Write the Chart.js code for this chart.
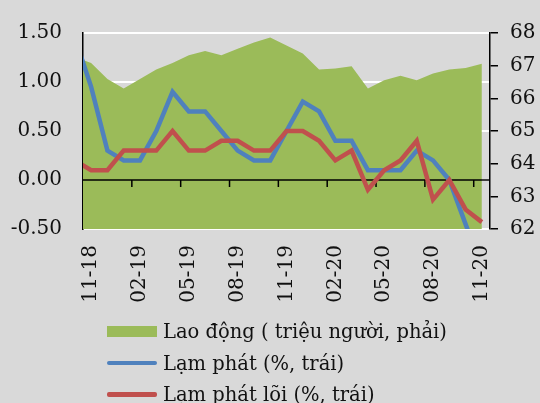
<!DOCTYPE html>
<html>
<head>
<meta charset="utf-8">
<script src="https://cdn.jsdelivr.net/npm/chart.js@4/dist/chart.umd.min.js"></script>
<style>
html,body{margin:0;padding:0;background:#d9d9d9;}
#wrap{position:relative;width:540px;height:403px;overflow:hidden;background:#d9d9d9;}
#c{position:absolute;left:0;top:0;}
#legend{position:absolute;left:107px;top:315.75px;font-family:'DejaVu Serif';font-size:19.5px;color:#111;}
.row{display:flex;align-items:center;height:31.5px;white-space:nowrap;}
.sw{width:50px;margin-right:6px;flex:none;}
</style>
</head>
<body>
<div id="wrap">
<canvas id="c" width="540" height="403"></canvas>
<div id="legend"></div>
</div>
<script>
// Months (first one, 10-18, lies just left of the plot and is clipped)
const months = ['10-18','11-18','12-18','01-19','02-19','03-19','04-19','05-19','06-19','07-19','08-19','09-19','10-19',
  '11-19','12-19','01-20','02-20','03-20','04-20','05-20','06-20','07-20','08-20','09-20','10-20','11-20'];
// Lao động (triệu người, trục phải)
const laoDong = [67.27,67.08,66.59,66.30,66.59,66.88,67.08,67.32,67.45,67.32,67.52,67.71,67.86,
  67.62,67.37,66.88,66.91,66.98,66.30,66.55,66.69,66.55,66.76,66.88,66.93,67.06];
// Lạm phát (%, trục trái)
const lamPhat = [1.45,0.95,0.30,0.20,0.20,0.50,0.90,0.70,0.70,0.50,0.30,0.20,0.20,
  0.50,0.80,0.70,0.40,0.40,0.10,0.10,0.10,0.30,0.20,0.00,-0.45,-0.90];
// Lạm phát lõi (%, trục trái)
const lamPhatLoi = [0.20,0.10,0.10,0.30,0.30,0.30,0.50,0.30,0.30,0.40,0.40,0.30,0.30,
  0.50,0.50,0.40,0.20,0.30,-0.10,0.10,0.20,0.40,-0.20,0.00,-0.30,-0.43];
const leftAxis = {min:-0.5, max:1.5, step:0.5};
const rightAxis = {min:62, max:68, step:1};
const labelEvery = 3;
const seriesNames = ['Lao động ( triệu người, phải)','Lạm phát (%, trái)','Lạm phát lõi (%, trái)'];
const seriesColors = ['#9bbb59','#4f81bd','#c0504d'];

const first = months.indexOf('11-18');
const toPts = arr => arr.map((v,k)=>({x:k-first, y:v}));
const nShown = months.length - first;

Chart.defaults.font.family = 'DejaVu Serif';
Chart.defaults.font.size = 20;
Chart.defaults.color = '#111';

const zeroAxis = {
  id:'zeroAxis',
  afterDatasetDraw(chart, args){
    if (args.index !== 0) return;
    const {ctx, chartArea:a, scales:{x, y}} = chart;
    const y0 = y.getPixelForValue(0);
    ctx.save();
    ctx.strokeStyle = '#000';
    ctx.lineWidth = 1.5;
    ctx.beginPath();
    ctx.moveTo(a.left, y0); ctx.lineTo(a.right, y0);
    for (let v = -0.5 + labelEvery; v < nShown; v += labelEvery){
      const px = x.getPixelForValue(v);
      ctx.moveTo(px, y0); ctx.lineTo(px, y0 + 7);
    }
    ctx.stroke();
    ctx.restore();
  }
};

new Chart(document.getElementById('c'), {
  type:'line',
  data:{
    datasets:[
      {label:seriesNames[0], data:toPts(laoDong), yAxisID:'y1', fill:'start', backgroundColor:seriesColors[0],
       borderWidth:0, pointRadius:0, order:2},
      {label:seriesNames[1], data:toPts(lamPhat), yAxisID:'y', fill:false, borderColor:seriesColors[1],
       borderWidth:4.5, pointRadius:0, order:1},
      {label:seriesNames[2], data:toPts(lamPhatLoi), yAxisID:'y', fill:false, borderColor:seriesColors[2],
       borderWidth:4.5, pointRadius:0, order:0}
    ]
  },
  options:{
    responsive:false, animation:false, devicePixelRatio:1,
    layout:{padding:{top:23,bottom:94,left:0,right:0}},
    plugins:{legend:{display:false}, tooltip:{enabled:false}},
    elements:{line:{tension:0}},
    scales:{
      x:{type:'linear', position:'bottom', min:-0.5, max:nShown-0.5,
        grid:{display:false, drawTicks:false}, border:{display:false},
        afterBuildTicks:s=>{ const t=[]; for(let v=0; v<nShown; v+=labelEvery) t.push({value:v}); s.ticks=t; },
        ticks:{autoSkip:false, minRotation:90, maxRotation:90, padding:16,
          callback:v=>months[v+first]},
        afterFit:s=>{ s.height = 80; }
      },
      y:{position:'left', min:leftAxis.min, max:leftAxis.max,
        ticks:{stepSize:leftAxis.step, padding:21, callback:v=>v.toFixed(2)},
        grid:{color:'#ffffff', lineWidth:2, drawTicks:false},
        border:{display:true, color:'#000', width:1.5},
        afterFit:s=>{ s.width = 83; }
      },
      y1:{position:'right', min:rightAxis.min, max:rightAxis.max,
        ticks:{stepSize:rightAxis.step, padding:12},
        grid:{drawOnChartArea:false, drawTicks:true, tickLength:8, color:'#000', lineWidth:1.5},
        border:{display:true, color:'#000', width:1.5},
        afterFit:s=>{ s.width = 50; }
      }
    }
  },
  plugins:[zeroAxis]
});

// Legend (stacked, left aligned like the original)
const lg = document.getElementById('legend');
seriesNames.forEach((name,k)=>{
  const row = document.createElement('div'); row.className='row';
  const sw = document.createElement('div'); sw.className='sw';
  sw.style.background = seriesColors[k];
  sw.style.height = k===0 ? '11px' : '4.5px';
  if (k>0) sw.style.borderRadius = '2px';
  const tx = document.createElement('span'); tx.textContent = name;
  row.appendChild(sw); row.appendChild(tx); lg.appendChild(row);
});
</script>
</body>
</html>
